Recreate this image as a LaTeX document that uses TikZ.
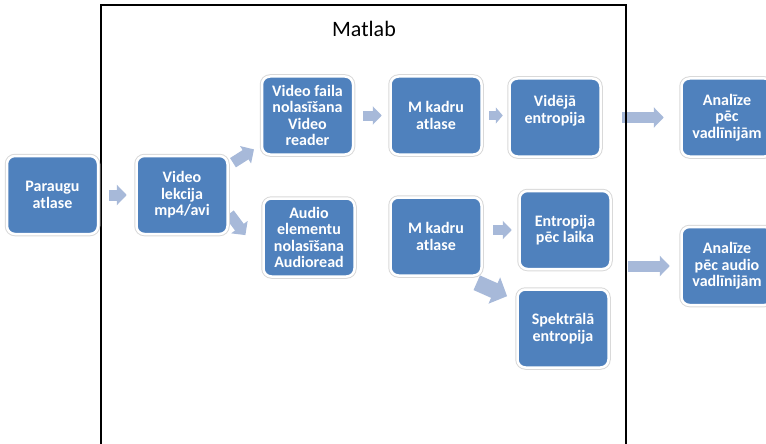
\documentclass[tikz,border=0pt]{standalone}
\usepackage{fontspec}
\setmainfont{Carlito}
\usetikzlibrary{arrows.meta,backgrounds}
\definecolor{boxblue}{RGB}{79,129,189}
\definecolor{arrowblue}{RGB}{167,185,217}
\tikzset{
  stepbox/.style={rectangle, rounded corners=8pt, fill=boxblue, draw=white, line width=2.5pt,
    preaction={draw=black!15, line width=4.5pt}, minimum width=91pt, minimum height=78pt,
    inner sep=1pt, align=center, text=white, font=\fontsize{16}{16.5}\selectfont\bfseries},
  flow/.style={draw=arrowblue, line width=11pt, -{Triangle[width=20pt,length=10pt]}}
}
\begin{document}
\begin{tikzpicture}[x=1pt,y=-1pt]
  \useasboundingbox (0,0) rectangle (766,444);
  \clip (0,0) rectangle (766,444);
  \draw[line width=1.5pt] (101,460) -- (101,5) -- (626,5) -- (626,460);
  \node[font=\fontsize{22}{26}\selectfont] (matlab) at (364,29) {Matlab};
  \node[stepbox] (para) at (52.5,195) {Paraugu\\atlase};
  \node[stepbox] (vlek) at (182,195) {Video\\lekcija\\mp4/avi};
  \node[stepbox] (vfail) at (307.5,115.5) {Video faila\\nolasīšana\\Video\\reader};
  \node[stepbox] (mk1) at (436,115.5) {M kadru\\atlase};
  \node[stepbox] (vid) at (555,117.5) {Vidējā\\entropija\\~};
  \node[stepbox] (audio) at (309,237.5) {Audio\\elementu\\nolasīšana\\Audioread};
  \node[stepbox] (mk2) at (436,236.5) {M kadru\\atlase};
  \node[stepbox] (entr) at (565,230) {Entropija\\pēc laika};
  \node[stepbox] (spek) at (563,328.5) {Spektrālā\\entropija};
  \node[stepbox] (an1) at (727,117.5) {Analīze\\pēc\\vadlīnijām};
  \node[stepbox] (an2) at (727,266) {Analīze\\pēc audio\\vadlīnijām};
  \begin{scope}[on background layer]
    \draw[flow, shorten <=10pt, shorten >=8.5pt] (para.east) -- (vlek.west);
    \draw[flow, shorten <=5pt, shorten >=8pt] (vlek) -- (vfail);
    \draw[flow, shorten <=1pt, shorten >=28pt] ([yshift=-18pt]vlek.east) -- ([yshift=-20pt]audio.west);
    \draw[flow, line width=10pt, -{Triangle[width=18pt,length=9pt]}, shorten <=9pt, shorten >=7.5pt] (vfail.east) -- (mk1.west);
    \draw[flow, line width=9pt, -{Triangle[width=16pt,length=7pt]}, shorten <=6.5pt, shorten >=5.5pt] (mk1.east) -- (mk1.east -| vid.west);
    \draw[flow, shorten <=20.5pt, shorten >=16.5pt] (vid.east) -- (an1.west);
    \draw[flow, line width=10pt, -{Triangle[width=18pt,length=9pt]}, shorten <=10.5pt, shorten >=6.5pt] (mk2.east |- entr.west) -- (entr.west);
    \draw[flow, line width=16pt, -{Triangle[width=28pt,length=14pt]}, shorten >=10pt] ([xshift=-6pt,yshift=-6pt]mk2.south east) -- ([yshift=-12pt]spek.north west);
    \draw[flow, shorten <=16.5pt, shorten >=10.5pt] (entr.east |- an2.west) -- (an2.west);
  \end{scope}
\end{tikzpicture}
\end{document}
